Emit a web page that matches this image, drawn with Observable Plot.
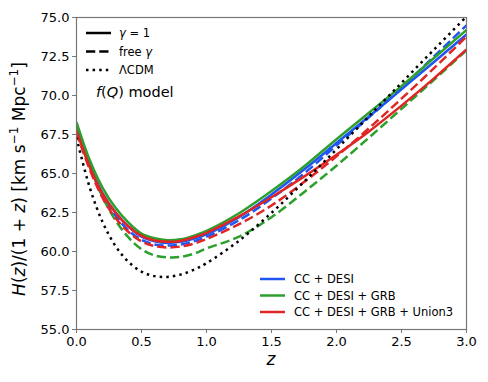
<!DOCTYPE html>
<html><head><meta charset="utf-8">
<script src="https://cdn.jsdelivr.net/npm/d3@7"></script>
<script src="https://cdn.jsdelivr.net/npm/@observablehq/plot@0.6"></script>
<style>body{margin:0;background:#fff;}</style>
</head><body><div id="chart"></div>
<script>
// redshift grid
const zGrid = [0, 0.1, 0.2, 0.3, 0.4, 0.5, 0.6, 0.7, 0.8, 0.9, 1.0, 1.25, 1.5, 1.75, 2.0, 2.25, 2.5, 2.75, 3.0];
// H(z)/(1+z) values
const lcdm        = [67.3, 64.15, 61.9, 60.35, 59.33, 58.71, 58.42, 58.37, 58.52, 58.82, 59.25, 60.69, 62.48, 64.47, 66.55, 68.68, 70.81, 72.94, 75.06];
const blueSolid   = [68.0, 65.6, 63.75, 62.5, 61.6, 60.95, 60.65, 60.55, 60.62, 60.82, 61.1, 62.2, 63.65, 65.25, 66.95, 68.65, 70.4, 72.15, 73.92];
const blueDashed  = [67.9, 65.5, 63.6, 62.3, 61.35, 60.75, 60.45, 60.38, 60.45, 60.65, 60.95, 62.0, 63.4, 65.0, 66.8, 68.6, 70.5, 72.5, 74.5];
const greenSolid  = [68.3, 65.9, 64.1, 62.8, 61.85, 61.15, 60.85, 60.72, 60.78, 61.0, 61.32, 62.45, 63.88, 65.45, 67.2, 68.9, 70.6, 72.4, 74.2];
const greenDashed = [68.1, 65.6, 63.5, 62.0, 60.9, 60.15, 59.75, 59.63, 59.65, 59.85, 60.2, 60.95, 62.2, 63.8, 65.5, 67.3, 69.15, 71.0, 72.9];
const redSolid    = [67.75, 65.45, 63.7, 62.5, 61.6, 61.0, 60.7, 60.62, 60.68, 60.9, 61.2, 62.25, 63.48, 64.8, 66.2, 67.7, 69.35, 71.1, 72.95];
const redDashed   = [67.6, 65.3, 63.45, 62.15, 61.25, 60.65, 60.35, 60.26, 60.32, 60.5, 60.8, 61.75, 62.95, 64.45, 66.1, 67.9, 69.8, 71.75, 73.78];
// tick labels
const xTicks = [0, 0.5, 1.0, 1.5, 2.0, 2.5, 3.0];
const yTicks = [55, 57.5, 60, 62.5, 65, 67.5, 70, 72.5, 75];
// legend labels
const datasetNames = ["CC + DESI", "CC + DESI + GRB", "CC + DESI + GRB + Union3"];

const BLUE = "#1f55f0", GREEN = "#2ca02c", RED = "#e02525";
const DASH = "9.25,4", DOT = "2.5,4.1";

const series = [
  {id: "bs", values: blueSolid, color: BLUE, dash: null},
  {id: "bd", values: blueDashed, color: BLUE, dash: DASH},
  {id: "gs", values: greenSolid, color: GREEN, dash: null},
  {id: "gd", values: greenDashed, color: GREEN, dash: DASH},
  {id: "rs", values: redSolid, color: RED, dash: null},
  {id: "rd", values: redDashed, color: RED, dash: DASH},
  {id: "l", values: lcdm, color: "black", dash: DOT}
];

const lineMarks = series.map(s => Plot.line(
  zGrid.map((z, i) => ({z, H: s.values[i]})),
  {x: "z", y: "H", stroke: s.color, strokeWidth: 2.5, strokeDasharray: s.dash,
   strokeLinecap: "butt", curve: "catmull-rom", clip: true}
));

const W = 488, H = 382, ML = 76, MR = 22, MT = 17, MB = 53;
const chart = Plot.plot({
  width: W, height: H,
  marginLeft: ML, marginRight: MR, marginTop: MT, marginBottom: MB,
  style: {fontFamily: "DejaVu Sans", fontSize: "13px", background: "white", color: "black"},
  x: {domain: [0, 3]},
  y: {domain: [55, 75]},
  marks: [
    ...lineMarks,
    Plot.frame({stroke: "#777", strokeWidth: 1.2}),
    Plot.axisX(xTicks, {tickSize: 4, tickPadding: 3, tickFormat: d3.format(".1f"), stroke: "#777", fill: "black", fontSize: 13, label: null}),
    Plot.axisY(yTicks, {tickSize: 4, tickPadding: 3, tickFormat: d3.format(".1f"), stroke: "#777", fill: "black", fontSize: 13, label: null})
  ]
});
document.getElementById("chart").appendChild(chart);

const svg = d3.select(chart);
const g = svg.append("g").attr("font-family", "DejaVu Sans").attr("fill", "black").attr("text-anchor", "start");

// x label
g.append("text").attr("x", ML + (W - ML - MR) / 2).attr("y", 365).attr("text-anchor", "middle")
  .attr("font-size", 17).attr("font-style", "italic").text("z");

// y label
const yl = g.append("text").attr("transform", `translate(25,${MT + (H - MT - MB) / 2 + 6}) rotate(-90)`)
  .attr("text-anchor", "middle").attr("font-size", 17);
yl.append("tspan").attr("font-style", "italic").text("H");
yl.append("tspan").text("(");
yl.append("tspan").attr("font-style", "italic").text("z");
yl.append("tspan").text(")/(1 + ");
yl.append("tspan").attr("font-style", "italic").text("z");
yl.append("tspan").text(") [km s");
yl.append("tspan").attr("font-size", 12).attr("dy", -7).text("\u22121");
yl.append("tspan").attr("dy", 7).text(" Mpc");
yl.append("tspan").attr("font-size", 12).attr("dy", -7).text("\u22121");
yl.append("tspan").attr("dy", 7).text("]");

// style legend (top-left)
const styleLeg = [
  {dash: null, parts: [["γ", true], [" = 1", false]]},
  {dash: DASH, parts: [["free ", false], ["γ", true]]},
  {dash: DOT, parts: [["ΛCDM", false]]}
];
const ly0 = [33, 51.5, 70];
styleLeg.forEach((d, i) => {
  g.append("line").attr("x1", 86).attr("x2", 111).attr("y1", ly0[i]).attr("y2", ly0[i])
    .attr("stroke", "black").attr("stroke-width", 2.5).attr("stroke-dasharray", d.dash);
  const t = g.append("text").attr("x", 119).attr("y", ly0[i]).attr("dy", "0.35em").attr("font-size", 11.5);
  d.parts.forEach(([s, it]) => t.append("tspan").attr("font-style", it ? "italic" : null).text(s));
});
const fq = g.append("text").attr("x", 96).attr("y", 92).attr("dy", "0.35em").attr("font-size", 14.5);
fq.append("tspan").attr("font-style", "italic").text("f");
fq.append("tspan").text("(");
fq.append("tspan").attr("font-style", "italic").text("Q");
fq.append("tspan").text(") model");

// dataset legend (bottom-right)
const colors = [BLUE, GREEN, RED];
const ly1 = [279, 295.5, 312];
datasetNames.forEach((name, i) => {
  g.append("line").attr("x1", 260).attr("x2", 285).attr("y1", ly1[i]).attr("y2", ly1[i])
    .attr("stroke", colors[i]).attr("stroke-width", 2.5);
  g.append("text").attr("x", 294).attr("y", ly1[i]).attr("dy", "0.35em").attr("font-size", 11.5).text(name);
});
</script></body></html>
